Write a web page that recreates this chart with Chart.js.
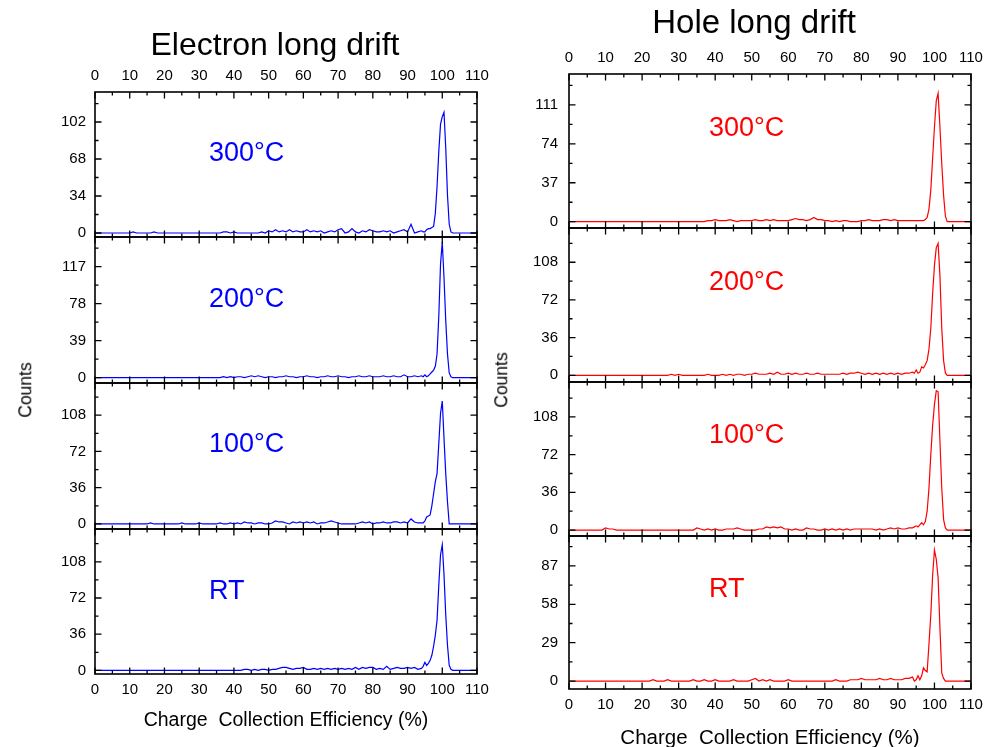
<!DOCTYPE html>
<html><head><meta charset="utf-8">
<script src="https://cdn.jsdelivr.net/npm/chart.js@4.4.1/dist/chart.umd.min.js"></script>
<style>
html,body{margin:0;padding:0;background:#fff;}
#wrap{position:relative;width:988px;height:747px;overflow:hidden;font-family:"Liberation Sans",Arial,sans-serif;}
canvas{position:absolute;left:0;top:0;}
.t{position:absolute;white-space:nowrap;transform:translate(-50%,-50%);color:#000;line-height:1;}
.r{transform:translate(-50%,-50%) rotate(-90deg);}
</style></head><body>
<div id="wrap">
<canvas id="c1" width="988" height="747"></canvas>
<canvas id="c2" width="988" height="747"></canvas>
<canvas id="c3" width="988" height="747"></canvas>
<canvas id="c4" width="988" height="747"></canvas>
<canvas id="c5" width="988" height="747"></canvas>
<canvas id="c6" width="988" height="747"></canvas>
<canvas id="c7" width="988" height="747"></canvas>
<canvas id="c8" width="988" height="747"></canvas>
<div class="t" style="left:275px;top:44px;font-size:32px">Electron long drift</div>
<div class="t" style="left:754px;top:21px;font-size:33px">Hole long drift</div>
<div class="t r" style="left:26px;top:390px;font-size:17.5px">Counts</div>
<div class="t r" style="left:502px;top:380px;font-size:17.5px">Counts</div>
<div class="t" style="left:286px;top:720px;font-size:19.5px">Charge&nbsp; Collection Efficiency (%)</div>
<div class="t" style="left:770px;top:737px;font-size:20.5px">Charge&nbsp; Collection Efficiency (%)</div>
</div>
<script>
// Charge collection efficiency bins (%)
const cce = [0,1,2,3,4,5,6,7,8,9,
 10,11,12,13,14,15,16,17,18,19,
 20,21,22,23,24,25,26,27,28,29,
 30,31,32,33,34,35,36,37,38,39,
 40,41,42,43,44,45,46,47,48,49,
 50,51,52,53,54,55,56,57,58,59,
 60,61,62,63,64,65,66,67,68,69,
 70,71,72,73,74,75,76,77,78,79,
 80,81,82,83,84,85,86,87,88,89,
 90,91,92,93,94,
 94.5,95,95.5,96,96.5,97,97.5,98,98.5,99,99.5,100,100.5,101,101.5,102,102.5,103,103.5,
 104,105,106,107,108,109,110];

// Electron long drift counts
const e300 = [0,0,0,0,0,0,0,0,0,0,
 0,1,0,0,0,0,0,1,0,0,
 0,0,0,0,0,0,0,0,0,0,
 0,0,0,0,0,0,0,1,1,0,
 1,0,0,0,0,0,0,0,1,0,
 2,1,3,1,2,1,3,1,2,1,
 1,3,1,2,1,2,0,1,2,1,
 3,4,0,1,4,1,0,2,1,3,
 2,1,1,2,1,2,0,1,2,3,
 1,8,0,1,2,
 1,1,3,4,4,5,6,18,43,75,100,107,111,78,35,8,1,0,0,
 0,0,0,0,0,0,0];
const e200 = [0,0,0,0,0,0,0,0,0,0,
 0,0,0,0,0,0,0,0,0,0,
 0,0,0,0,0,0,0,0,0,0,
 0,0,0,0,0,0,0,1,0,1,
 0,1,1,0,1,2,1,2,1,0,
 1,1,0,1,1,2,1,1,0,1,
 1,2,1,1,0,1,1,2,1,1,
 2,1,1,0,1,1,2,1,1,2,
 1,1,1,2,1,1,2,1,1,3,
 1,1,2,1,2,
 1,3,1,2,4,6,8,12,25,65,120,143,105,60,25,5,1,0,0,
 0,0,0,0,0,0,0];
const e100 = [0,0,0,0,0,0,0,0,0,0,
 0,0,0,0,0,0,1,0,0,0,
 0,0,0,0,0,1,0,0,0,0,
 1,0,0,0,0,0,1,0,0,1,
 0,1,0,2,1,1,0,1,1,0,
 0,1,3,2,2,1,0,2,1,2,
 1,2,1,2,0,1,1,2,3,2,
 1,0,0,0,0,0,1,2,1,2,
 0,1,1,2,1,1,2,2,1,2,
 1,5,2,1,1,
 1,3,7,8,9,18,30,42,50,80,110,122,85,50,22,0,0,0,0,
 0,0,0,0,0,0,0];
const eRT = [0,0,0,0,0,0,0,0,0,0,
 0,0,0,0,0,0,0,0,0,0,
 0,0,0,0,0,0,0,0,0,0,
 0,0,0,0,0,0,0,0,0,0,
 0,0,0,1,1,0,1,0,1,1,
 0,1,1,2,3,3,2,1,2,2,
 3,1,1,2,1,2,1,2,1,2,
 1,2,1,2,1,3,1,3,2,3,
 3,1,2,1,4,1,2,3,2,2,
 3,2,3,1,2,
 4,8,5,7,10,15,24,35,50,85,115,125,95,55,25,5,1,0,0,
 0,0,0,0,0,0,0];

// Hole long drift counts
const h300 = [0,0,0,0,0,0,0,0,0,0,
 0,0,0,0,0,0,0,0,0,0,
 0,0,0,0,0,0,0,0,0,0,
 0,0,0,0,0,0,0,0,1,1,
 2,1,1,1,2,1,0,1,1,1,
 1,2,1,1,2,1,2,1,1,1,
 1,2,3,2,2,1,2,4,2,2,
 1,1,0,1,0,1,1,0,0,0,
 1,1,2,1,1,1,2,2,1,2,
 1,1,1,1,1,
 1,1,1,1,1,1,2,4,12,30,60,90,115,122,90,55,25,5,0,
 0,0,0,0,0,0,0];
const h200 = [0,0,0,0,0,0,0,0,0,0,
 0,0,0,0,0,0,0,0,0,0,
 0,0,0,0,0,0,0,0,1,0,
 1,0,0,0,0,0,0,0,1,0,
 0,0,1,0,1,0,1,1,0,1,
 1,2,1,1,1,2,1,3,1,1,
 2,1,2,1,1,2,1,1,2,1,
 1,1,1,1,1,2,1,2,2,3,
 2,1,2,1,2,1,2,1,2,1,
 2,1,2,2,3,
 2,5,2,3,8,7,10,14,25,45,78,105,122,126,95,45,14,2,0,
 0,0,0,0,0,0,0];
const h100 = [0,0,0,0,0,0,0,0,0,0,
 2,1,1,0,0,0,0,0,0,0,
 0,0,0,0,0,0,0,0,0,0,
 0,0,0,0,0,2,1,0,1,0,
 1,0,0,1,1,1,2,1,0,0,
 0,0,1,1,3,2,3,2,3,1,
 1,0,1,0,0,2,1,1,0,0,
 1,0,1,0,1,0,1,0,1,1,
 1,1,1,1,0,1,0,1,2,1,
 2,1,1,2,2,
 3,4,3,5,7,5,8,18,40,72,100,120,133,132,85,40,10,2,0,
 0,0,0,0,0,0,0];
const hRT = [0,0,0,0,0,0,0,0,0,0,
 0,0,0,0,0,0,0,0,0,0,
 0,0,0,1,0,0,0,1,0,0,
 0,0,0,0,1,0,0,1,0,0,
 1,0,0,0,0,1,0,0,0,0,
 1,2,0,1,0,1,0,0,0,0,
 1,0,0,0,0,0,0,0,0,0,
 0,0,0,1,0,0,0,1,1,1,
 2,1,1,1,1,2,1,1,2,1,
 1,1,2,2,3,
 0,1,4,1,4,10,8,7,28,50,80,99,92,78,40,6,2,0,0,
 0,0,0,0,0,0,0];

// Y tick labels per panel
const ytE300 = [0,34,68,102];
const ytE200 = [0,39,78,117];
const ytE100 = [0,36,72,108];
const ytERT  = [0,36,72,108];
const ytH300 = [0,37,74,111];
const ytH200 = [0,36,72,108];
const ytH100 = [0,36,72,108];
const ytHRT  = [0,29,58,87];
const xTicks = [0,10,20,30,40,50,60,70,80,90,100,110];

const FONT = '"Liberation Sans", Arial, sans-serif';

const framePlugin = {
  id: 'frame',
  afterDatasetsDraw(chart, args, o) {
    const {ctx, chartArea: a} = chart;
    const x = chart.scales.x, y = chart.scales.y;
    ctx.save();
    ctx.strokeStyle = '#000';
    ctx.lineWidth = 1.3;
    ctx.beginPath();
    for (let v = 0; v <= 110; v += 5) {
      const px = x.getPixelForValue(v);
      const len = v % 10 === 0 ? 6.5 : 3.5;
      ctx.moveTo(px, a.top); ctx.lineTo(px, a.top + len);
      ctx.moveTo(px, a.bottom); ctx.lineTo(px, a.bottom - len);
    }
    const step = o.yTicks[1] - o.yTicks[0];
    for (let i = 0; ; i++) {
      const v = i * step / 2;
      if (v > y.max) break;
      const py = y.getPixelForValue(v);
      const len = i % 2 === 0 ? 6.5 : 3.5;
      ctx.moveTo(a.left, py); ctx.lineTo(a.left + len, py);
      ctx.moveTo(a.right, py); ctx.lineTo(a.right - len, py);
    }
    ctx.stroke();
    ctx.lineWidth = 1.6;
    ctx.strokeRect(a.left, a.top, a.right - a.left, a.bottom - a.top);
    ctx.fillStyle = o.color;
    ctx.font = '27px ' + FONT;
    ctx.textAlign = 'left';
    ctx.textBaseline = 'middle';
    ctx.fillText(o.text, o.lx, o.ly);
    ctx.restore();
  }
};

function panel(id, P) {
  const hasX = !!P.xpos;
  const xScale = {
    type: 'linear', position: P.xpos || 'bottom', display: hasX, min: 0, max: 110,
    grid: {display: false, drawTicks: false}, border: {display: false},
    ticks: {autoSkip: false, maxRotation: 0, padding: 7, color: '#000', font: {family: FONT, size: P.fs}},
    afterBuildTicks: s => { s.ticks = xTicks.map(v => ({value: v})); },
    afterFit: s => { if (hasX) s.height = 30; s.paddingLeft = 0; s.paddingRight = 0; }
  };
  new Chart(document.getElementById(id), {
    type: 'line',
    data: {datasets: [{
      data: cce.map((c, i) => ({x: c, y: P.vals[i]})),
      borderColor: P.color, borderWidth: 1.2, pointRadius: 0, fill: false, tension: 0
    }]},
    options: {
      responsive: false, animation: false, devicePixelRatio: 1,
      events: [],
      layout: {padding: {
        left: P.left - 40, right: 988 - P.right,
        top: P.top - (P.xpos === 'top' ? 30 : 0),
        bottom: 747 - P.bottom - (P.xpos === 'bottom' ? 30 : 0)
      }},
      plugins: {
        legend: {display: false}, tooltip: {enabled: false},
        frame: {yTicks: P.yt, color: P.color, text: P.text, lx: P.lx, ly: P.ly}
      },
      scales: {
        x: xScale,
        y: {
          type: 'linear', min: P.ymin, max: P.ymax,
          grid: {display: false, drawTicks: false}, border: {display: false},
          ticks: {padding: P.ypad, color: '#000', font: {family: FONT, size: P.fs}},
          afterBuildTicks: s => { s.ticks = P.yt.map(v => ({value: v})); },
          afterFit: s => { s.width = 40; s.paddingTop = 0; s.paddingBottom = 0; }
        }
      }
    },
    plugins: [framePlugin]
  });
}

const BLUE = '#0000ff', RED = '#ff0000';
const L = {left: 95, right: 477, fs: 15, ypad: 9, color: BLUE, lx: 209};
const R = {left: 569, right: 971, fs: 15, ypad: 11, color: RED, lx: 709};

panel('c1', Object.assign({}, L, {vals: e300, yt: ytE300, ymin: -3.7, ymax: 129.6, top: 92, bottom: 237, xpos: 'top', text: '300°C', ly: 154}));
panel('c2', Object.assign({}, L, {vals: e200, yt: ytE200, ymin: -5.6, ymax: 148.3, top: 237, bottom: 383, text: '200°C', ly: 300}));
panel('c3', Object.assign({}, L, {vals: e100, yt: ytE100, ymin: -5, ymax: 140, top: 383, bottom: 529, text: '100°C', ly: 445}));
panel('c4', Object.assign({}, L, {vals: eRT, yt: ytERT, ymin: -3.6, ymax: 140.6, top: 529, bottom: 674, xpos: 'bottom', text: 'RT', ly: 592}));
panel('c5', Object.assign({}, R, {vals: h300, yt: ytH300, ymin: -6, ymax: 140.4, top: 74, bottom: 228, xpos: 'top', text: '300°C', ly: 129}));
panel('c6', Object.assign({}, R, {vals: h200, yt: ytH200, ymin: -6.4, ymax: 140.7, top: 228, bottom: 382, text: '200°C', ly: 283}));
panel('c7', Object.assign({}, R, {vals: h100, yt: ytH100, ymin: -5.7, ymax: 141.4, top: 382, bottom: 536, text: '100°C', ly: 436}));
panel('c8', Object.assign({}, R, {vals: hRT, yt: ytHRT, ymin: -6, ymax: 109.6, top: 536, bottom: 689, xpos: 'bottom', text: 'RT', ly: 590}));
</script>
</body></html>
